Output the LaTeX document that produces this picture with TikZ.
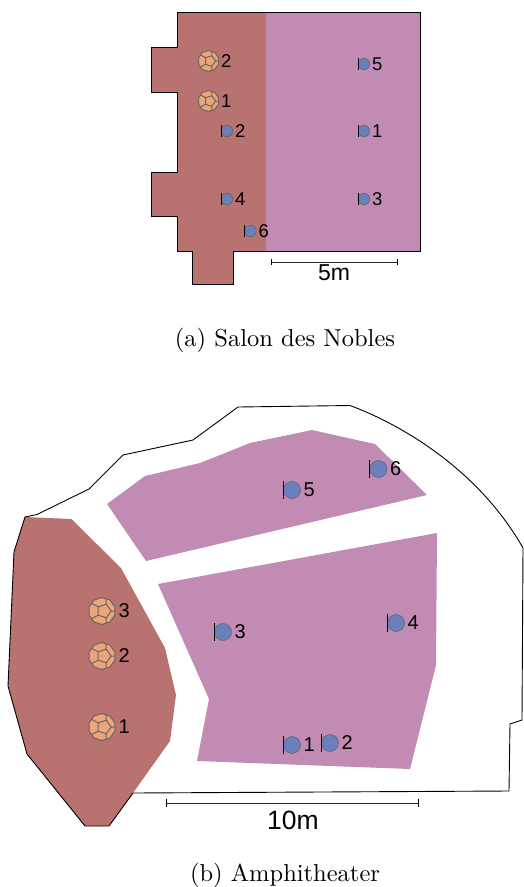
\documentclass[tikz,border=0pt]{standalone}
\usepackage{fontspec}
\newfontfamily\labelfont{Liberation Sans}
\newfontfamily\capfont{lmroman10-regular}[Extension=.otf]
\usetikzlibrary{shapes.geometric}
\definecolor{zonered}{HTML}{B87270}
\definecolor{zonepurple}{HTML}{C28BB4}
\definecolor{srcblue}{HTML}{6A80BC}
\definecolor{dodorange}{HTML}{EDA478}
\definecolor{strokegray}{HTML}{666666}
\tikzset{
  x=1pt,y=-1pt,
  wall/.style={draw=black,line width=1pt,line join=miter},
  redzone/.style={fill=zonered},
  purplezone/.style={fill=zonepurple},
  source/.style={circle,fill=srcblue,draw=strokegray,line width=0.6pt,inner sep=0pt,minimum size=#1*2pt},
  dodeca/.style={regular polygon,regular polygon sides=10,shape border rotate=18,
    fill=dodorange,draw=strokegray,line width=1pt,inner sep=0pt,minimum size=#1*2pt,
    path picture={
      \foreach \a [remember=\a as \b (initially 288)] in {0,72,144,216,288}{
        \draw[strokegray,line width=1pt]
          ([shift={(#1*0.15pt,0pt)},shift={(\b:#1*0.53pt)}]path picture bounding box.center) --
          ([shift={(#1*0.15pt,0pt)},shift={(\a:#1*0.53pt)}]path picture bounding box.center) --
          ([shift={(\a:#1*1.0pt)}]path picture bounding box.center);
      }
    }},
  tag/.style={font=\labelfont\fontsize{#1}{#1}\selectfont,anchor=west,inner sep=0pt,text=black},
  tick/.style={draw=black,line width=0.7pt},
  scalebar/.style={draw=black!85,line width=0.9pt},
  caption/.style={font=\capfont\fontsize{24.5}{28}\selectfont,inner sep=0pt}
}
\begin{document}
\begin{tikzpicture}
\useasboundingbox (0,0) rectangle (523,887);
% ---- Salon des Nobles
\fill[purplezone] (266,12) -- (420,12) -- (420,251) -- (266,251) -- cycle;
\fill[redzone] (177.5,12) -- (266,12) -- (266,251) -- (233,251) -- (233,284) -- (192.5,284) -- (192.5,251) -- (177.5,251) -- (177.5,216) -- (151,216) -- (151,172) -- (177.5,172) -- (177.5,92) -- (151,92) -- (151,47) -- (177.5,47) -- cycle;
\draw[wall] (177.5,12) -- (420,12) -- (420,251) -- (233,251) -- (233,284) -- (192.5,284) -- (192.5,251) -- (177.5,251) -- (177.5,216) -- (151,216) -- (151,172) -- (177.5,172) -- (177.5,92) -- (151,92) -- (151,47) -- (177.5,47) -- cycle;
\foreach \n/\x/\y/\t in {a5/364/64/5,a1/364/131/1,a2/227/131/2,a3/364/199/3,a4/227/199/4,a6/250.5/231/6}{
  \node[source=5.7] (\n) at (\x,\y) {};
  \draw[tick] (\x-6,\y-6) -- (\x-6,\y+6);
  \node[tag=18.5] (\n t) at (\x+8,\y) {\t};
}
\foreach \n/\x/\y/\t in {p2/208.5/61/2,p1/208.5/101/1}{
  \node[dodeca=10.5] (\n) at (\x,\y) {};
  \node[tag=18.5] (\n t) at (\x+12.5,\y) {\t};
}
\coordinate (sa) at (271,262);
\coordinate (sb) at (397,262);
\draw[scalebar] (sa) -- (sb);
\draw[tick] ([yshift=-3pt]sa) -- ([yshift=3pt]sa);
\draw[tick] ([yshift=-3pt]sb) -- ([yshift=3pt]sb);
\node[tag=23,anchor=center] (sl) at (334,273) {5m};
\node[caption] (capa) at (285,340) {(a) Salon des Nobles};
% ---- Amphitheater
\fill[redzone] (25,517) -- (71.5,519) -- (121,568) -- (165,648) -- (176,695) -- (170,741) -- (133,793) -- (109,826) -- (85,826) -- (27,754) -- (8,686) -- (14,552) -- cycle;
\fill[purplezone] (107,504) -- (145,476) -- (200,463) -- (250,443) -- (312,430) -- (375,444) -- (427,495) -- (146,561) -- cycle;
\fill[purplezone] (158,584) -- (437,533) -- (436,665) -- (410,769) -- (197,761) -- (209,699) -- cycle;
\draw[wall,line width=0.9pt] (25,517) -- (14,552) -- (8,686) -- (27,754) -- (85,826) -- (109,826) -- (133,793) -- (509,791) -- (510,724) -- (522,720) -- (523,548)
  .. controls (480,472) and (405,426) .. (350,405.5) -- (238,407) -- (193,440) -- (123,455) -- (89,489) -- (37,514.5) -- cycle;
\foreach \n/\x/\y/\t in {b5/292/490/5,b6/378.5/469/6,b3/223/632/3,b4/396/623/4,b1/292/745/1,b2/330/743/2}{
  \node[source=8.5] (\n) at (\x,\y) {};
  \draw[tick] (\x-9,\y-9) -- (\x-9,\y+9);
  \node[tag=20] (\n t) at (\x+11.5,\y) {\t};
}
\foreach \n/\x/\y/\t in {q3/102/611/3,q2/102/656/2,q1/102/727/1}{
  \node[dodeca=13.5] (\n) at (\x,\y) {};
  \node[tag=20] (\n t) at (\x+16.5,\y) {\t};
}
\coordinate (sc) at (166,803);
\coordinate (sd) at (418,803);
\draw[scalebar] (sc) -- (sd);
\draw[tick] ([yshift=-4pt]sc) -- ([yshift=4pt]sc);
\draw[tick] ([yshift=-4pt]sd) -- ([yshift=4pt]sd);
\node[tag=26.5,anchor=center] (sm) at (293,820) {10m};
\node[caption] (capb) at (285,875) {(b) Amphitheater};
\end{tikzpicture}
\end{document}
